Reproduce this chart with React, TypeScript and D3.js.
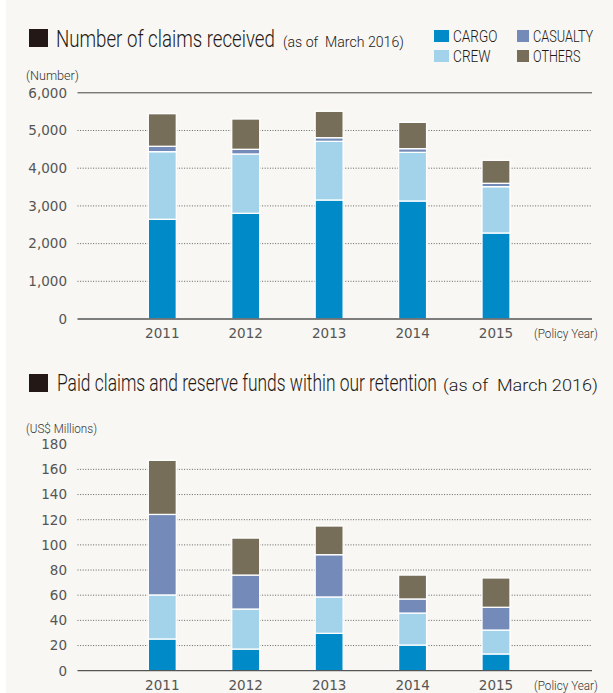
import React, { useLayoutEffect, useRef, useState } from 'react';
import * as d3 from 'd3';

const years = ['2011', '2012', '2013', '2014', '2015'];
const seriesKeys = ['CARGO', 'CREW', 'CASUALTY', 'OTHERS'];
const seriesColors = ['#008BC8', '#A3D3EA', '#748BBA', '#776E5A'];
const legendOrder = ['CARGO', 'CASUALTY', 'CREW', 'OTHERS'];

// Number of claims received
const claimsCargo = [2645, 2804, 3156, 3130, 2281];
const claimsCrew = [1793, 1573, 1557, 1291, 1229];
const claimsCasualty = [143, 124, 96, 97, 89];
const claimsOthers = [865, 804, 700, 699, 610];
const claimsTicks = [0, 1000, 2000, 3000, 4000, 5000, 6000];

// Paid claims and reserve funds (US$ Millions)
const paidCargo = [25.2, 17.2, 29.7, 20.4, 13.3];
const paidCrew = [35.0, 31.8, 28.9, 25.4, 19.0];
const paidCasualty = [64.0, 27.0, 33.6, 11.2, 18.1];
const paidOthers = [43.0, 29.4, 22.8, 19.0, 23.3];
const paidTicks = [0, 20, 40, 60, 80, 100, 120, 140, 160, 180];

const COND = "Roboto, 'Liberation Sans', sans-serif";
const NUM = "'DejaVu Sans', 'Noto Sans', sans-serif";

type Row = { year: string; [k: string]: number | string };

function buildRows(cargo: number[], crew: number[], cas: number[], oth: number[]): Row[] {
  return years.map((y, i) => ({ year: y, CARGO: cargo[i], CREW: crew[i], CASUALTY: cas[i], OTHERS: oth[i] }));
}

const colorScale = d3.scaleOrdinal<string, string>().domain(seriesKeys).range(seriesColors);

// Text squeezed horizontally to a given width (condensed look)
function FitText(props: { x: number; y: number; width: number; size: number; fill?: string; children: string }) {
  const ref = useRef<SVGTextElement>(null);
  const [sx, setSx] = useState(1);
  useLayoutEffect(() => {
    if (ref.current) {
      const w = ref.current.getComputedTextLength();
      if (w > 0) setSx(props.width / w);
    }
  }, [props.width, props.children]);
  return (
    <text
      ref={ref}
      transform={`translate(${props.x},${props.y}) scale(${sx},1)`}
      fontFamily={COND}
      fontWeight={300}
      fontSize={props.size}
      fill={props.fill || '#231815'}
      style={{ whiteSpace: 'pre' }}
    >
      {props.children}
    </text>
  );
}

function StackedChart(props: {
  rows: Row[];
  ticks: number[];
  yBottom: number;
  yTop: number;
  fmt: (v: number) => string;
  unit: string;
  unitY: number;
  unitLen: number;
  topLineSolid: boolean;
  yearY: number;
}) {
  const { rows, ticks, yBottom, yTop, fmt, unit, unitY, unitLen, topLineSolid, yearY } = props;
  const max = ticks[ticks.length - 1];
  const y = d3.scaleLinear().domain([0, max]).range([yBottom, yTop]);
  const x = d3.scalePoint<string>().domain(years).range([162.3, 496]);
  const bw = 28;
  const stacked = d3.stack<Row>().keys(seriesKeys).value((d, k) => d[k] as number)(rows);
  const gx0 = 77.5;
  const gx1 = 592;
  return (
    <g>
      <FitText x={26} y={unitY + 4.5} width={unitLen} size={13} fill="#333">
        {unit}
      </FitText>
      {ticks.map((t, i) => {
        const yy = y(t);
        const isZero = t === 0;
        const isTop = i === ticks.length - 1;
        return (
          <g key={t}>
            {isZero ? null : isTop ? (
              topLineSolid ? <line x1={gx0} x2={gx1} y1={yy} y2={yy} stroke="#444" strokeWidth={1} /> : null
            ) : (
              <line x1={gx0} x2={gx1} y1={yy} y2={yy} stroke="#555" strokeWidth={0.9} strokeDasharray="1,1.6" />
            )}
            <text x={67} y={yy + 4.8} textAnchor="end" fontFamily={NUM} fontSize={13.5} fill="#555">
              {fmt(t)}
            </text>
          </g>
        );
      })}
      {stacked.map((s) => (
        <g key={s.key} fill={colorScale(s.key)}>
          {s.map((d, i) => (
            <rect
              key={i}
              x={(x(years[i]) as number) - bw / 2}
              y={y(d[1])}
              width={bw}
              height={y(d[0]) - y(d[1])}
              stroke="#ffffff"
              strokeWidth={1.3}
            />
          ))}
        </g>
      ))}
      <line x1={gx0} x2={gx1} y1={yBottom} y2={yBottom} stroke="#555" strokeWidth={1.3} />
      {years.map((yr) => (
        <text key={yr} x={x(yr)} y={yearY + 4.8} textAnchor="middle" fontFamily={NUM} fontSize={13.5} fill="#555">
          {yr}
        </text>
      ))}
      <FitText x={534} y={yearY + 4.5} width={64} size={13} fill="#333">
        (Policy Year)
      </FitText>
    </g>
  );
}

export default function App() {
  const claimsRows = buildRows(claimsCargo, claimsCrew, claimsCasualty, claimsOthers);
  const paidRows = buildRows(paidCargo, paidCrew, paidCasualty, paidOthers);
  const fmtComma = d3.format(',');
  const fmtPlain = d3.format('d');
  const legendLens: { [key: string]: number } = { CARGO: 44.4, CASUALTY: 60.3, CREW: 37.7, OTHERS: 47.6 };
  return (
    <svg width={613} height={693} style={{ position: 'absolute', left: 0, top: 0, display: 'block' }}>
      <rect x={0} y={0} width={613} height={693} fill="#ffffff" />
      <rect x={6} y={0} width={607} height={693} fill="#F8F7F3" />

      {/* Title 1 */}
      <rect x={29} y={29} width={19} height={18} fill="#231815" />
      <FitText x={56} y={47} width={219} size={23}>
        Number of claims received
      </FitText>
      <FitText x={283} y={47} width={121} size={15}>
        {'(as of  March 2016)'}
      </FitText>

      {/* Legend */}
      {legendOrder.map((k, i) => {
        const col = i % 2;
        const row = Math.floor(i / 2);
        const sx = col === 0 ? 434 : 517;
        const tx = col === 0 ? 453 : 533;
        const by = row === 0 ? 42 : 62;
        return (
          <g key={k}>
            <rect x={sx} y={by - 12} width={col === 0 ? 15 : 12} height={12} fill={colorScale(k)} />
            <FitText x={tx} y={by} width={legendLens[k]} size={16}>
              {k}
            </FitText>
          </g>
        );
      })}

      <StackedChart
        rows={claimsRows}
        ticks={claimsTicks}
        yBottom={319}
        yTop={92.8}
        fmt={fmtComma}
        unit="(Number)"
        unitY={75.7}
        unitLen={53}
        topLineSolid={true}
        yearY={333}
      />

      {/* Title 2 */}
      <rect x={29} y={374} width={19} height={18} fill="#231815" />
      <FitText x={57} y={391} width={380} size={24}>
        Paid claims and reserve funds within our retention
      </FitText>
      <FitText x={443} y={391} width={155} size={16}>
        {'(as of  March 2016)'}
      </FitText>

      <StackedChart
        rows={paidRows}
        ticks={paidTicks}
        yBottom={670.7}
        yTop={444.2}
        fmt={fmtPlain}
        unit="(US$ Millions)"
        unitY={428}
        unitLen={71}
        topLineSolid={false}
        yearY={685}
      />
    </svg>
  );
}
